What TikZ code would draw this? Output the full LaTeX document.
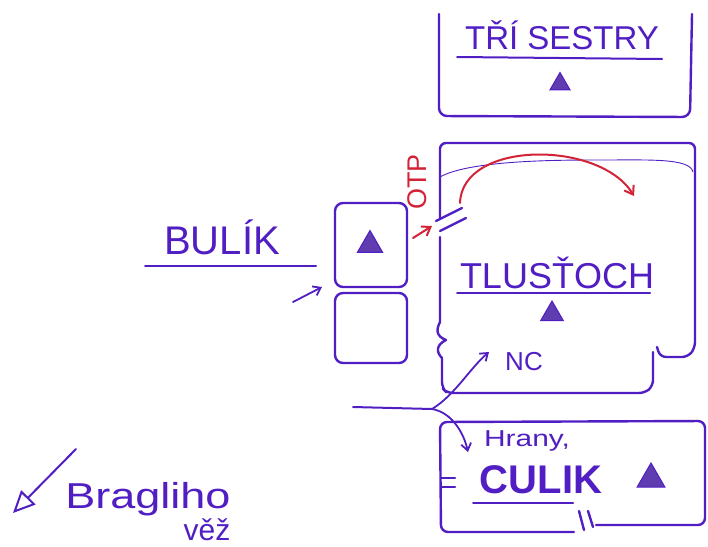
\documentclass[tikz,border=0pt]{standalone}
\usepackage{fontspec}
\setmainfont{Liberation Sans}
\usetikzlibrary{arrows.meta,shapes.geometric}
\definecolor{ink}{RGB}{80,30,195}
\definecolor{trifill}{RGB}{95,60,175}
\definecolor{redink}{RGB}{210,35,55}
\tikzset{
  wall/.style={draw=ink, line width=2.4pt, line join=round, line cap=round},
  uline/.style={draw=ink, line width=2pt, line cap=round},
  tri/.style={regular polygon, regular polygon sides=3, fill=trifill, draw=ink, line width=1pt, inner sep=0pt, minimum size=#1},
  lbl/.style={text=ink, inner sep=0pt},
  arr/.style={draw=ink, line width=1.8pt, line cap=round, -{Straight Barb[length=7pt,width=10pt]}},
  redarr/.style={draw=redink, line width=2pt, line cap=round, -{Straight Barb[length=8pt,width=11pt]}},
}
\begin{document}
\begin{tikzpicture}[x=1pt,y=-1pt]
\useasboundingbox (0,0) rectangle (708,546);

% ---- TRI SESTRY ----
\draw[wall, rounded corners=8pt] (439,14) -- (439,116) -- (690,117) -- (692,14);
\node[lbl, anchor=base, font=\fontsize{33}{33}\selectfont] (sestry) at (562,49) {TŘÍ SESTRY};
\draw[uline] (457,57) -- (662,59);
\node[tri=23pt] (sestrytri) at (560,84) {};

% ---- TLUSTOCH ----
\draw[wall, rounded corners=6pt] (440,218) -- (440,143) -- (695,143) -- (695,348) -- (688,357) -- (660,357) -- (657,347);
\draw[wall, rounded corners=6pt] (653,352) -- (653,386) -- (645,393) -- (447,393) -- (442,388) -- (442,358);
\draw[wall] (442,358) .. controls (436,352) and (436,345) .. (446,340) .. controls (436,336) and (436,330) .. (440,322) -- (440,237);
\draw[wall] (436,221) -- (462,208);
\draw[wall] (440,231) -- (466,218);
\draw[ink, line width=0.9pt] (440,177) .. controls (470,160) and (560,160) .. (600,160) .. controls (650,160) and (690,158) .. (693,172);
\node[lbl, anchor=base, font=\fontsize{36}{36}\selectfont] (tlustoch) at (557,288) {TLUSŤOCH};
\draw[uline] (457,293) -- (650,293);
\node[tri=26pt] (tlustochtri) at (552,314) {};
\node[lbl, anchor=base, font=\fontsize{26}{26}\selectfont] (nc) at (524,370) {NC};

% red OTP
\node[text=redink, inner sep=0pt, rotate=90, font=\fontsize{27}{27}\selectfont] (otp) at (417,182) {OTP};
\coordinate (otpS) at (460,203);
\coordinate (otpE) at (634,196);
\draw[redarr] (otpS) .. controls (462,140) and (600,140) .. (otpE);
\coordinate (doorA) at (413,238);
\coordinate (doorB) at (432,226);
\draw[redarr] (doorA) -- (doorB);

% ---- BULIK ----
\draw[wall, rounded corners=8pt] (335,203) rectangle (407,287);
\draw[wall, rounded corners=8pt] (335,293) rectangle (407,363);
\node[tri=29pt] (buliktri) at (370,245) {};
\node[lbl, anchor=base, font=\fontsize{40}{40}\selectfont] (bulik) at (222,254) {BULÍK};
\draw[uline] (145,266) -- (316,266);
\coordinate (bulA) at (293,302);
\coordinate (bulB) at (322,287);
\draw[arr] (bulA) -- (bulB);

% ---- junction ----
\coordinate (lineW) at (353,407);
\coordinate (jn) at (432,409);
\coordinate (ncTip) at (489,352);
\coordinate (culTip) at (468,452);
\draw[wall, line width=2pt] (lineW) -- (jn);
\draw[arr] (jn) .. controls (455,395) and (470,368) .. (ncTip);
\draw[arr] (jn) .. controls (450,412) and (463,430) .. (culTip);

% ---- CULIK ----
\draw[wall, rounded corners=7pt] (574,532) -- (441,532) -- (440,422) -- (705,421) -- (705,525) -- (596,525);
\draw[wall] (579,511) -- (584,530);
\draw[wall] (588,511) -- (593,527);
\draw[uline] (441,478) -- (455,478);
\draw[uline] (441,487) -- (455,487);
\node[lbl, anchor=base, font=\fontsize{23}{23}\selectfont, xscale=1.3] (hrany) at (527,446) {Hrany,};
\node[lbl, anchor=base, font=\bfseries\fontsize{40}{40}\selectfont] (culik) at (541,493) {CULIK};
\draw[uline] (473,503) -- (573,503);
\node[tri=32pt] (culiktri) at (651,479) {};

% ---- Braglihova vez ----
\coordinate (bragA) at (76,449);
\coordinate (bragB) at (13,513);
\draw[draw=ink, line width=2pt, line cap=round, line join=round, -{Triangle[open, length=22pt, width=20pt]}] (bragA) -- (bragB);
\node[lbl, anchor=base, font=\fontsize{36}{36}\selectfont, xscale=1.25] (brag) at (148,508) {Bragliho};
\node[lbl, anchor=base, font=\fontsize{30}{30}\selectfont] (vez) at (207,540) {věž};
\end{tikzpicture}
\end{document}
